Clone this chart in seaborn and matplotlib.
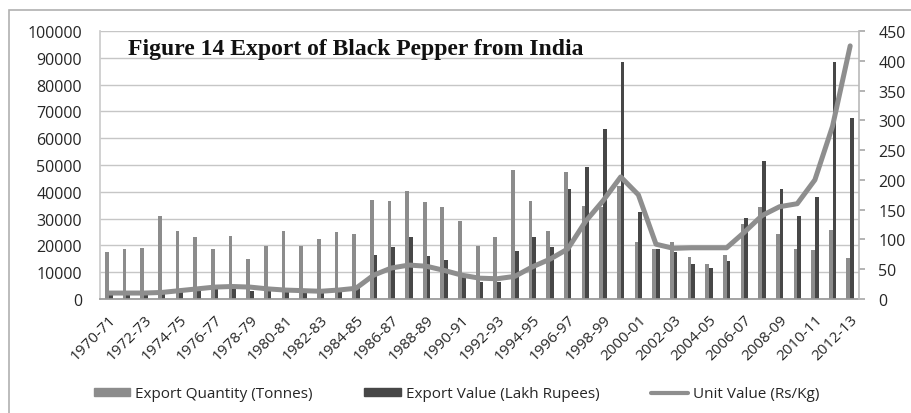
import matplotlib
matplotlib.use("Agg")
import matplotlib.pyplot as plt
import seaborn as sns
import pandas as pd
from matplotlib.patches import Patch, Rectangle
from matplotlib.lines import Line2D

years = ["1970-71", "1971-72", "1972-73", "1973-74", "1974-75", "1975-76", "1976-77",
         "1977-78", "1978-79", "1979-80", "1980-81", "1981-82", "1982-83", "1983-84",
         "1984-85", "1985-86", "1986-87", "1987-88", "1988-89", "1989-90", "1990-91",
         "1991-92", "1992-93", "1993-94", "1994-95", "1995-96", "1996-97", "1997-98",
         "1998-99", "1999-00", "2000-01", "2001-02", "2002-03", "2003-04", "2004-05",
         "2005-06", "2006-07", "2007-08", "2008-09", "2009-10", "2010-11", "2011-12",
         "2012-13"]

export_quantity = [17500, 18700, 19000, 31000, 25400, 23000, 18700, 23500, 15000, 19800,
                   25200, 19800, 22400, 25000, 24300, 36900, 36500, 40300, 36200, 34300,
                   29100, 19800, 23100, 48100, 36600, 25400, 47400, 34700, 34300, 42200,
                   21300, 18700, 21200, 15700, 13100, 16400, 28000, 34300, 24300, 18700,
                   18300, 25700, 15300]

export_value = [1800, 1900, 1900, 3400, 3600, 3900, 3700, 4900, 3000, 3400,
                3800, 2800, 2900, 3800, 4400, 16400, 19400, 23100, 16000, 14600,
                9300, 6300, 6300, 17900, 23100, 19400, 41000, 49300, 63400, 88400,
                32400, 18700, 17500, 13100, 11600, 14200, 30200, 51500, 41000, 31000,
                38100, 88400, 67500]

unit_value = [10, 10, 10, 11, 14, 17, 20, 21, 20, 17,
              15, 14, 13, 15, 18, 40, 52, 57, 55, 48,
              40, 35, 34, 38, 54, 67, 84, 130, 165, 205,
              175, 92, 85, 86, 86, 86, 112, 140, 155, 160,
              200, 290, 425]

series_names = ["Export Quantity (Tonnes)", "Export Value (Lakh Rupees)", "Unit Value (Rs/Kg)"]
title_text = "Figure 14 Export of Black Pepper from India"

bars = pd.DataFrame({
    "Year": years * 2,
    "Series": [series_names[0]] * len(years) + [series_names[1]] * len(years),
    "Amount": export_quantity + export_value,
})
line_df = pd.DataFrame({"pos": list(range(len(years))), "Unit": unit_value})

sns.set_theme(style="white")
plt.rcParams["font.family"] = ["Open Sans", "DejaVu Sans"]

c_qty = "#8c8c8c"
c_val = "#474747"
c_line = "#8e8e8e"
txt = "#262626"

fig = plt.figure(figsize=(9.11, 4.14), dpi=100)
ax = fig.add_axes([100 / 911, 1 - 300 / 414, 759 / 911, 268 / 414])

sns.barplot(data=bars, x="Year", y="Amount", hue="Series",
            palette=[c_qty, c_val], width=0.42, ax=ax, legend=False,
            saturation=1, linewidth=0)
ax.set_ylim(0, 100000)
ax.set_yticks(range(0, 100001, 10000))
ax.set_yticklabels([str(v) for v in range(0, 100001, 10000)], fontsize=11.5, color=txt)
ax.yaxis.grid(True, color="#c6c6c6", linewidth=1)
ax.set_axisbelow(True)
ax.set_xlabel("")
ax.set_ylabel("")
ax.set_xticks(range(len(years)))
ax.set_xticklabels([y if i % 2 == 0 else "" for i, y in enumerate(years)],
                   rotation=45, ha="right", rotation_mode="anchor", fontsize=11, color=txt)
ax.tick_params(axis="x", length=3, color="#aaaaaa", pad=6)
ax.tick_params(axis="y", length=0, pad=13)
for s in ["top", "right"]:
    ax.spines[s].set_visible(False)
ax.spines["left"].set_color("#cccccc")
ax.spines["bottom"].set_color("#999999")

ax2 = ax.twinx()
sns.lineplot(data=line_df, x="pos", y="Unit", color=c_line, linewidth=3.6, ax=ax2)
ax2.set_ylim(0, 450)
ax2.set_yticks(range(0, 451, 50))
ax2.set_yticklabels([str(v) for v in range(0, 451, 50)], fontsize=11.5, color=txt)
ax2.set_ylabel("")
ax2.set_xlim(-0.5, len(years) - 0.5)
ax2.tick_params(axis="y", length=4, color="#aaaaaa", pad=10)
for s in ["top", "left", "bottom"]:
    ax2.spines[s].set_visible(False)
ax2.spines["right"].set_color("#bbbbbb")
ax2.grid(False)

fig.text(128 / 911, 1 - 50 / 414, title_text, fontsize=17, fontweight="bold",
         family=["Liberation Serif", "DejaVu Serif"], color="#111111", va="center", ha="left")

handles = [Patch(color=c_qty), Patch(color=c_val), Line2D([0], [0], color=c_line, linewidth=3)]
fig.legend(handles, series_names, loc="center left", bbox_to_anchor=(80 / 911, 1 - 395 / 414),
           ncol=3, frameon=False, fontsize=11, handlelength=2.4, handleheight=0.5,
           handletextpad=0.3, columnspacing=3.4, labelcolor=txt)

fig.patches.append(Rectangle((9 / 911, -0.1), 1.1, 1 - 11 / 414 + 0.1, transform=fig.transFigure,
                             fill=False, edgecolor="#b0b0b0", linewidth=1.2))

fig.savefig("out.png", dpi=100)
